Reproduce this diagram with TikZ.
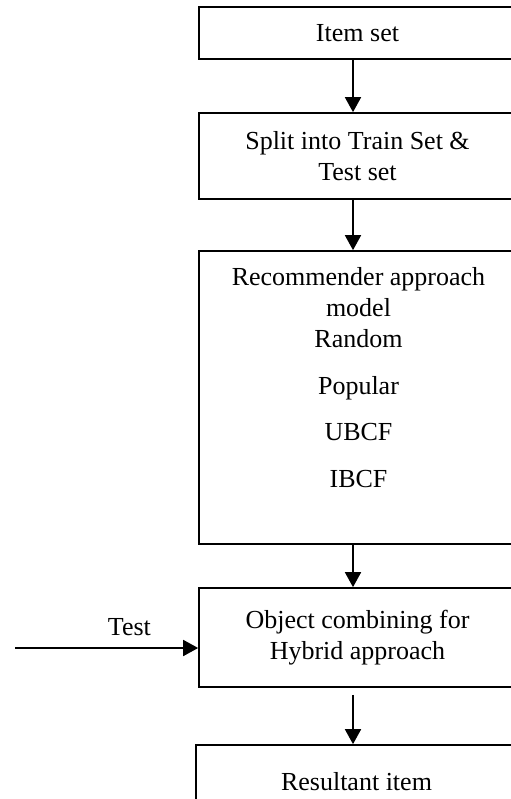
\documentclass[tikz,border=0pt]{standalone}
\usepackage{fontspec}
\setmainfont{Liberation Serif}
\usetikzlibrary{arrows.meta}
\tikzset{
  >={Triangle[length=7.5pt,width=8pt]},
  box/.style={draw=black,line width=0.85pt,minimum width=158.5pt,minimum height=#1,
    align=center,inner sep=0pt},
  box/.default=26pt,
  flow/.style={->,line width=0.9pt},
  tag/.style={align=center,inner sep=0pt},
}
\begin{document}
\begin{tikzpicture}[x=0.5pt,y=-0.5pt,font=\fontsize{13pt}{15.5pt}\selectfont]
  \useasboundingbox (0,0) rectangle (510,799);
  % boxes
  \node[box=26pt] (item) at (357.5,33) {Item set};
  \node[box=43pt] (split) at (357.5,156) {Split into Train Set \&\\Test set};
  \node[box=146.5pt] (model) at (357.5,397.5) {};
  \node[tag,anchor=north] (modeltxt) at (358.5,267)
    {Recommender approach\\model\\Random\\[7.8pt]Popular\\[7.8pt]UBCF\\[7.8pt]IBCF};
  \node[box=49.5pt] (hybrid) at (357.5,637.5) {Object combining for\\Hybrid approach};
  \node[box=37pt,minimum width=160.5pt] (result) at (356.5,782) {Resultant item};
  \coordinate (test) at (15,648);
  % arrows
  \draw[flow] ([xshift=-2.25pt]item.south) -- ([xshift=-2.25pt]split.north);
  \draw[flow] ([xshift=-2.25pt]split.south) -- ([xshift=-2.25pt]model.north);
  \draw[flow] ([xshift=-2.25pt]model.south) -- ([xshift=-2.25pt]hybrid.north);
  \draw[flow] ([xshift=-2.25pt,yshift=-3.5pt]hybrid.south)
    -- ([xshift=-2.25pt]hybrid.south |- result.north);
  \draw[flow] (test) -- (hybrid.west |- test)
    node[tag,pos=0.625,above=5.5pt] (testlbl) {Test};
\end{tikzpicture}
\end{document}
